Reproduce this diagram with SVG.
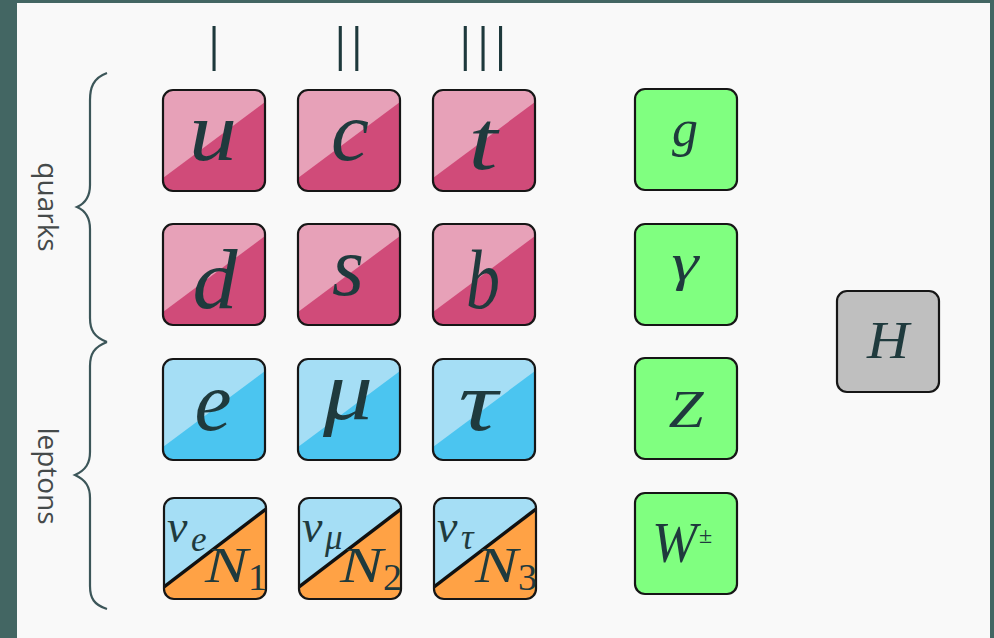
<svg xmlns="http://www.w3.org/2000/svg" width="994" height="638" viewBox="0 0 994 638">
<defs>
<style>
.box{stroke:#161616;stroke-width:2.2;}
.sep{stroke:#101010;stroke-width:3.4;}
.m{font-family:"Liberation Serif","DejaVu Serif",serif;font-style:italic;fill:#1f3a3d;text-anchor:middle;}
.r{font-family:"Liberation Serif","DejaVu Serif",serif;fill:#1f3a3d;}
.num{font-family:"Open Sans","DejaVu Sans",sans-serif;font-weight:300;font-size:62px;fill:#1e393c;text-anchor:middle;}
.lab{font-family:"Open Sans","DejaVu Sans",sans-serif;font-size:28px;fill:#454a4a;text-anchor:middle;}
.brace{fill:none;stroke:#3c5659;stroke-width:2.2;}
</style>
<clipPath id="bc"><rect x="0" y="0" width="102" height="101" rx="10" ry="10"/></clipPath>
</defs>
<rect x="0" y="0" width="994" height="638" fill="#436663"/>
<rect x="17" y="3" width="973" height="640" fill="#f9f9f9"/>

<g id="generations">
<text class="num" x="214" y="71">I</text>
<text class="num" x="349" y="71" letter-spacing="1">II</text>
<text class="num" x="484" y="71" letter-spacing="2">III</text>
</g>

<g id="braces">
<path class="brace" d="M107,73 C93,78 90,88 90,100 L90,185 C90,196 86,203 77,207 C86,211 90,218 90,229 L90,318 C90,330 94,337 107,342"/>
<path class="brace" d="M107,342 C94,347 90,354 90,366 L90,452 C90,463 86,470 75,475 C86,480 90,487 90,498 L90,586 C90,598 94,605 107,609"/>
<text class="lab" transform="translate(38,207) rotate(90)">quarks</text>
<text class="lab" transform="translate(38,476) rotate(90)">leptons</text>
</g>

<g id="u" transform="translate(163,90)"><g clip-path="url(#bc)"><rect width="102" height="101" fill="#d04b79"/><polygon points="0,0 102,0 102,12 0,88" fill="#e7a1b8"/></g><rect class="box" width="102" height="101" rx="10" fill="none"/><text class="m" x="50" y="70" font-size="84" textLength="48" lengthAdjust="spacingAndGlyphs">u</text></g>
<g id="c" transform="translate(298,90)"><g clip-path="url(#bc)"><rect width="102" height="101" fill="#d04b79"/><polygon points="0,0 102,0 102,12 0,88" fill="#e7a1b8"/></g><rect class="box" width="102" height="101" rx="10" fill="none"/><text class="m" x="52" y="70" font-size="84" textLength="38" lengthAdjust="spacingAndGlyphs">c</text></g>
<g id="t" transform="translate(433,90)"><g clip-path="url(#bc)"><rect width="102" height="101" fill="#d04b79"/><polygon points="0,0 102,0 102,12 0,88" fill="#e7a1b8"/></g><rect class="box" width="102" height="101" rx="10" fill="none"/><text class="m" x="50" y="79" font-size="84" textLength="29" lengthAdjust="spacingAndGlyphs">t</text></g>

<g id="d" transform="translate(163,224)"><g clip-path="url(#bc)"><rect width="102" height="101" fill="#d04b79"/><polygon points="0,0 102,0 102,12 0,88" fill="#e7a1b8"/></g><rect class="box" width="102" height="101" rx="10" fill="none"/><text class="m" x="52" y="84" font-size="84" textLength="45" lengthAdjust="spacingAndGlyphs">d</text></g>
<g id="s" transform="translate(298,224)"><g clip-path="url(#bc)"><rect width="102" height="101" fill="#d04b79"/><polygon points="0,0 102,0 102,12 0,88" fill="#e7a1b8"/></g><rect class="box" width="102" height="101" rx="10" fill="none"/><text class="m" x="50" y="71" font-size="84" textLength="32" lengthAdjust="spacingAndGlyphs">s</text></g>
<g id="b" transform="translate(433,224)"><g clip-path="url(#bc)"><rect width="102" height="101" fill="#d04b79"/><polygon points="0,0 102,0 102,12 0,88" fill="#e7a1b8"/></g><rect class="box" width="102" height="101" rx="10" fill="none"/><text class="m" x="50" y="84" font-size="84" textLength="34" lengthAdjust="spacingAndGlyphs">b</text></g>

<g id="e" transform="translate(163,359)"><g clip-path="url(#bc)"><rect width="102" height="101" fill="#4bc5f0"/><polygon points="0,0 102,0 102,12 0,88" fill="#a5def5"/></g><rect class="box" width="102" height="101" rx="10" fill="none"/><text class="m" x="50" y="71" font-size="84" textLength="37" lengthAdjust="spacingAndGlyphs">e</text></g>
<g id="mu" transform="translate(298,359)"><g clip-path="url(#bc)"><rect width="102" height="101" fill="#4bc5f0"/><polygon points="0,0 102,0 102,12 0,88" fill="#a5def5"/></g><rect class="box" width="102" height="101" rx="10" fill="none"/><text class="m" x="50" y="60" font-size="84" textLength="50" lengthAdjust="spacingAndGlyphs">μ</text></g>
<g id="tau" transform="translate(433,359)"><g clip-path="url(#bc)"><rect width="102" height="101" fill="#4bc5f0"/><polygon points="0,0 102,0 102,12 0,88" fill="#a5def5"/></g><rect class="box" width="102" height="101" rx="10" fill="none"/><text class="m" x="45" y="71" font-size="84" textLength="39" lengthAdjust="spacingAndGlyphs">τ</text></g>

<g id="nu_e" transform="translate(164,498)"><g clip-path="url(#bc)"><rect width="102" height="101" fill="#ffa245"/><polygon points="0,0 102,0 102,11 0,89" fill="#a5def5"/><line class="sep" x1="0" y1="89" x2="102" y2="11"/></g><rect class="box" width="102" height="101" rx="10" fill="none"/><text class="r" x="3" y="44" font-size="46" font-style="italic">ν</text><text class="r" x="27" y="53" font-size="35" font-style="italic">e</text><text class="r" x="41" y="84" font-size="51" font-style="italic" textLength="43" lengthAdjust="spacingAndGlyphs">N</text><text class="r" x="84" y="92" font-size="38">1</text></g>
<g id="nu_mu" transform="translate(299,498)"><g clip-path="url(#bc)"><rect width="102" height="101" fill="#ffa245"/><polygon points="0,0 102,0 102,11 0,89" fill="#a5def5"/><line class="sep" x1="0" y1="89" x2="102" y2="11"/></g><rect class="box" width="102" height="101" rx="10" fill="none"/><text class="r" x="3" y="44" font-size="46" font-style="italic">ν</text><text class="r" x="26" y="51" font-size="35" font-style="italic">μ</text><text class="r" x="41" y="84" font-size="51" font-style="italic" textLength="43" lengthAdjust="spacingAndGlyphs">N</text><text class="r" x="84" y="92" font-size="38">2</text></g>
<g id="nu_tau" transform="translate(434,498)"><g clip-path="url(#bc)"><rect width="102" height="101" fill="#ffa245"/><polygon points="0,0 102,0 102,11 0,89" fill="#a5def5"/><line class="sep" x1="0" y1="89" x2="102" y2="11"/></g><rect class="box" width="102" height="101" rx="10" fill="none"/><text class="r" x="3" y="44" font-size="46" font-style="italic">ν</text><text class="r" x="27" y="51" font-size="35" font-style="italic">τ</text><text class="r" x="41" y="84" font-size="51" font-style="italic" textLength="43" lengthAdjust="spacingAndGlyphs">N</text><text class="r" x="84" y="92" font-size="38">3</text></g>

<g id="g" transform="translate(635,89)"><rect class="box" width="102" height="101" rx="10" fill="#80ff80"/><text class="m" x="50" y="57" font-size="52" textLength="26" lengthAdjust="spacingAndGlyphs">g</text></g>
<g id="gamma" transform="translate(635,224)"><rect class="box" width="102" height="101" rx="10" fill="#80ff80"/><text class="m" x="50" y="56" font-size="52" textLength="27" lengthAdjust="spacingAndGlyphs">γ</text></g>
<g id="Z" transform="translate(635,358)"><rect class="box" width="102" height="101" rx="10" fill="#80ff80"/><text class="m" x="51" y="69" font-size="53" textLength="35" lengthAdjust="spacingAndGlyphs">Z</text></g>
<g id="W" transform="translate(635,493)"><rect class="box" width="102" height="101" rx="10" fill="#80ff80"/><text class="r" x="17" y="69" font-size="56" font-style="italic" textLength="45" lengthAdjust="spacingAndGlyphs">W</text><text class="r" x="64" y="50" font-size="24">±</text></g>

<g id="H" transform="translate(837,291)"><rect class="box" width="102" height="101" rx="10" fill="#bfbfbf"/><text class="m" x="51" y="67" font-size="53" textLength="42" lengthAdjust="spacingAndGlyphs">H</text></g>
</svg>
